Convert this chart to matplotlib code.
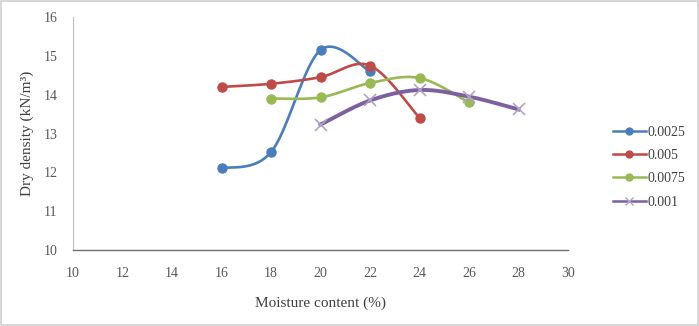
import numpy as np
import matplotlib
matplotlib.use("Agg")
import matplotlib.pyplot as plt
from matplotlib.lines import Line2D

plt.rcParams['font.family'] = ['Liberation Serif', 'DejaVu Serif']

# Dados de compactação (umidade x densidade seca) por teor
x_0025 = [16, 18, 20, 22]
y_0025 = [12.1, 12.52, 15.15, 14.6]

x_005 = [16, 18, 20, 22, 24]
y_005 = [14.2, 14.28, 14.45, 14.75, 13.4]

x_0075 = [18, 20, 22, 24, 26]
y_0075 = [13.9, 13.93, 14.3, 14.43, 13.8]

x_001 = [20, 22, 24, 26, 28]
y_001 = [13.23, 13.85, 14.12, 13.95, 13.62]

labels = ["0.0025", "0.005", "0.0075", "0.001"]
colors = ["#4A7EBB", "#BE4B48", "#98B954", "#7D60A0"]


def suavizar(xs, ys, n=40):
    """Curva suavizada tipo Excel (Bezier cúbica com tangentes Catmull-Rom)."""
    p = np.column_stack([xs, ys]).astype(float)
    pts = [p[0]]
    for i in range(len(p) - 1):
        p0 = p[i - 1] if i > 0 else p[i]
        p1, p2 = p[i], p[i + 1]
        p3 = p[i + 2] if i + 2 < len(p) else p[i + 1]
        c1 = p1 + (p2 - p0) / 6
        c2 = p2 - (p3 - p1) / 6
        t = np.linspace(0, 1, n)[1:, None]
        seg = ((1 - t) ** 3) * p1 + 3 * ((1 - t) ** 2) * t * c1 + 3 * (1 - t) * t ** 2 * c2 + t ** 3 * p2
        pts.extend(seg)
    pts = np.array(pts)
    return pts[:, 0], pts[:, 1]


fig = plt.figure(figsize=(6.99, 3.26), dpi=100)
ax = fig.add_axes([73 / 699, 1 - 250 / 326, (568 - 73) / 699, (250 - 17) / 326])

series = [(x_0025, y_0025), (x_005, y_005), (x_0075, y_0075), (x_001, y_001)]
handles = []
for (xs, ys), lab, c in zip(series, labels, colors):
    sx, sy = suavizar(xs, ys)
    if lab == "0.001":
        ax.plot(sx, sy, color=c, lw=2.8, zorder=2)
        ax.plot(xs, ys, ls="none", marker="x", ms=9, mew=1.2, color="#B3A2C7", zorder=3)
        handles.append(Line2D([], [], color=c, lw=1.8, marker="x", ms=6, mec="#B3A2C7"))
    else:
        ax.plot(sx, sy, color=c, lw=1.9, zorder=2)
        ax.plot(xs, ys, ls="none", marker="o", ms=6.5, color=c, zorder=3)
        handles.append(Line2D([], [], color=c, lw=1.8, marker="o", ms=5))

ax.set_xlim(10, 30)
ax.set_ylim(10, 16)
ax.set_xticks(range(10, 31, 2))
ax.set_yticks(range(10, 17))
ax.tick_params(length=0, labelsize=10, colors="#595959")
ax.tick_params(axis="y", pad=11)
ax.tick_params(axis="x", pad=12)

for s in ["top", "right"]:
    ax.spines[s].set_visible(False)
ax.spines["left"].set_color("#BFBFBF")
ax.spines["left"].set_linewidth(0.8)
ax.spines["bottom"].set_color("#6E6E6E")
ax.spines["bottom"].set_linewidth(1.0)

ax.set_xlabel("Moisture content (%)", fontsize=11, color="#404040", labelpad=12)
ax.set_ylabel("Dry density (kN/m³)", fontsize=11, color="#404040", labelpad=7)

fig.legend(handles, labels, loc="upper left", bbox_to_anchor=(600 / 699, 1 - 113 / 326),
           frameon=False, fontsize=10, labelcolor="#404040", handlelength=2.4,
           handletextpad=0.1, labelspacing=0.75)

# moldura externa da figura
fig.patches.append(plt.Rectangle((0.001, 0.003), 0.997, 0.994, transform=fig.transFigure,
                                 fill=False, edgecolor="#D0D0D0", lw=1.2))

fig.savefig("out.png", dpi=100)
